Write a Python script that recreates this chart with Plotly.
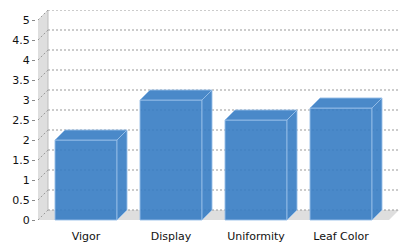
import plotly.graph_objects as go

categories = ["Vigor", "Display", "Uniformity", "Leaf Color"]
values = [2.0, 3.0, 2.5, 2.8]
y_ticks = [0, 0.5, 1, 1.5, 2, 2.5, 3, 3.5, 4, 4.5, 5]
y_labels = ["0", "0.5", "1", "1.5", "2", "2.5", "3", "3.5", "4", "4.5", "5"]

W, H = 410, 250
ML, MR, MT, MB = 20, 11, 10, 28
plot_left_px = 38          # front-left edge of the 3D box
px_per_cat = 85.0
px_per_unit = 40.0
depth_px = 10.0

paper_w = W - ML - MR
x_start = -(86 - plot_left_px) / px_per_cat
x_end = x_start + (W - MR - plot_left_px) / px_per_cat
dx = depth_px / px_per_cat
dy = depth_px / px_per_unit
bar_w = 62 / px_per_cat
y_min = -(H - MB - 220) / px_per_unit
y_max = 5 + dy
front_right = x_end - dx

bar_fill = "rgba(54,124,195,0.9)"
edge_col = "rgba(150,190,232,0.9)"
grid_col = "#999999"

shapes = []
# left wall
shapes.append(dict(type="path", layer="below", xref="x", yref="y",
                   path=f"M{x_start},{0} L{x_start},{5} L{x_start+dx},{5+dy} L{x_start+dx},{dy} Z",
                   fillcolor="#dedede", line=dict(width=0)))
shapes.append(dict(type="line", layer="below", xref="x", yref="y",
                   x0=x_start+dx, x1=x_start+dx, y0=dy, y1=5+dy,
                   line=dict(color="#bdbdbd", width=1)))
# floor
shapes.append(dict(type="path", layer="below", xref="x", yref="y",
                   path=f"M{x_start},{0} L{front_right},{0} L{x_end},{dy} L{x_start+dx},{dy} Z",
                   fillcolor="#dedede", line=dict(width=0)))
# grid lines
for t in y_ticks:
    shapes.append(dict(type="line", layer="below", xref="x", yref="y",
                       x0=x_start, y0=t, x1=x_start+dx, y1=t+dy,
                       line=dict(color=grid_col, width=1, dash="2px,2px")))
    shapes.append(dict(type="line", layer="below", xref="x", yref="y",
                       x0=x_start+dx, y0=t+dy, x1=x_end, y1=t+dy,
                       line=dict(color=grid_col, width=1, dash="2px,2px")))

# 3D faces of bars
for i, v in enumerate(values):
    l = i - bar_w / 2
    r = i + bar_w / 2
    shapes.append(dict(type="path", layer="above", xref="x", yref="y",
                       path=f"M{r},{0} L{r+dx},{dy} L{r+dx},{v+dy} L{r},{v} Z",
                       fillcolor=bar_fill, line=dict(color=edge_col, width=1)))
    shapes.append(dict(type="path", layer="above", xref="x", yref="y",
                       path=f"M{l},{v} L{l+dx},{v+dy} L{r+dx},{v+dy} L{r},{v} Z",
                       fillcolor=bar_fill, line=dict(color=edge_col, width=1)))

fig = go.Figure()
fig.add_trace(go.Bar(x=list(range(len(categories))), y=values, width=bar_w,
                     marker=dict(color=bar_fill, line=dict(color=edge_col, width=1)),
                     hoverinfo="skip"))

fig.update_layout(
    width=W, height=H,
    margin=dict(l=ML, r=MR, t=MT, b=MB, pad=0, autoexpand=False),
    paper_bgcolor="white", plot_bgcolor="rgba(0,0,0,0)",
    showlegend=False,
    shapes=shapes,
    font=dict(family="DejaVu Sans", size=11, color="#111111"),
    xaxis=dict(range=[x_start, x_end], domain=[(plot_left_px - ML) / paper_w, 1],
               tickvals=list(range(len(categories))), ticktext=categories,
               showgrid=False, zeroline=False, showline=False, automargin=False,
               ticks="outside", ticklen=4, tickcolor="rgba(0,0,0,0)",
               tickfont=dict(size=11)),
    yaxis=dict(range=[y_min, y_max], anchor="free", position=(35 - ML) / paper_w,
               tickvals=y_ticks, ticktext=y_labels, automargin=False,
               showgrid=False, zeroline=False, showline=False,
               ticks="outside", ticklen=3, tickcolor="#888888",
               tickfont=dict(size=11)),
)

fig.write_html("out.html")
